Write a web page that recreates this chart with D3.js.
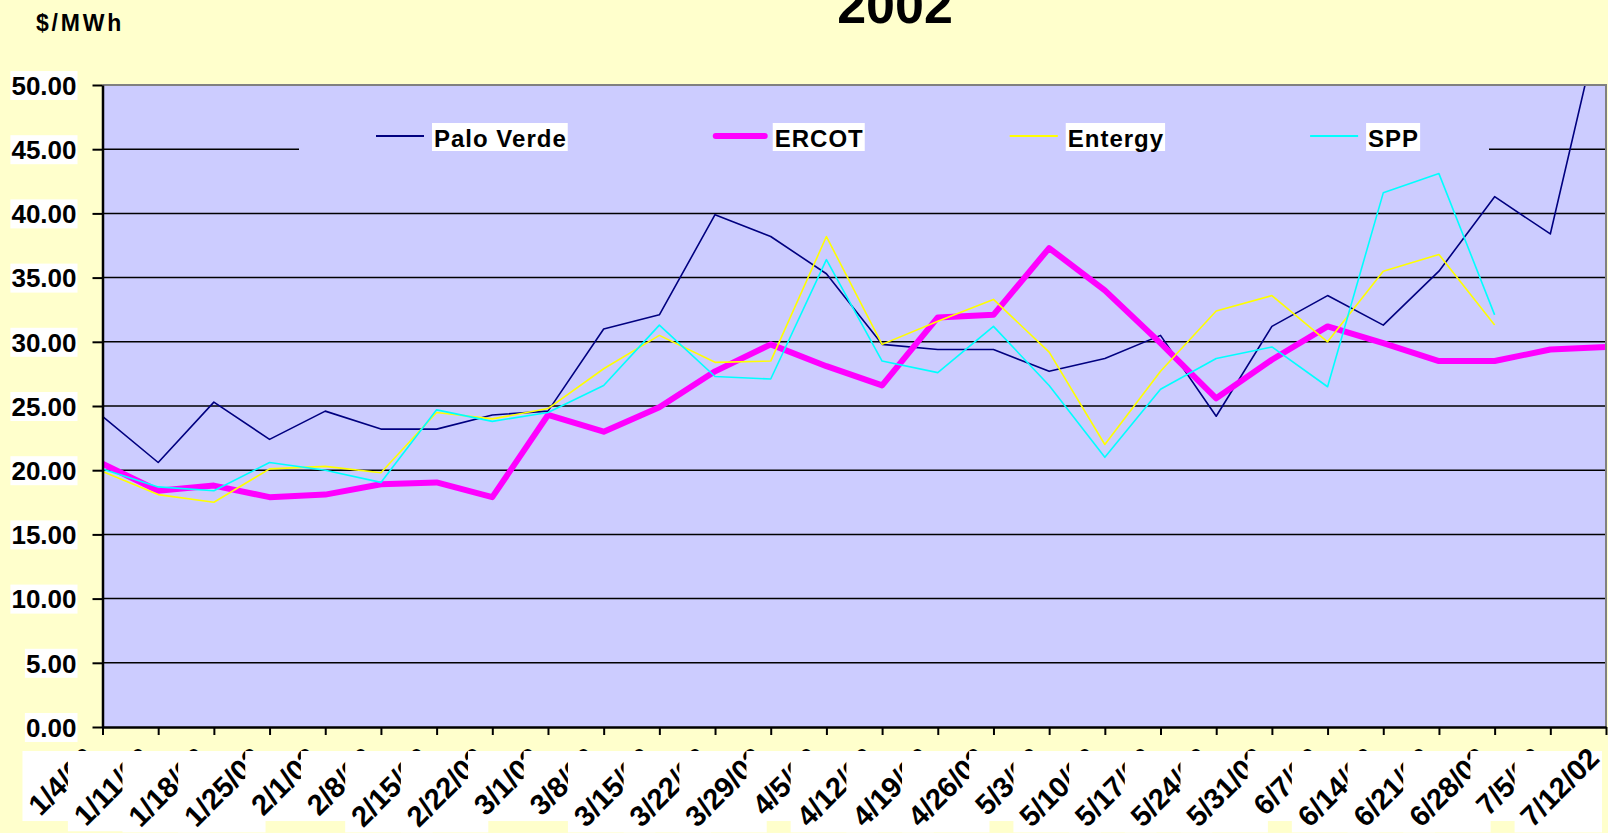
<!DOCTYPE html>
<html>
<head>
<meta charset="utf-8">
<script src="https://cdn.jsdelivr.net/npm/d3@7"></script>
<style>
  body { margin: 0; background: #FFFFCC; }
  svg { display: block; font-family: "Liberation Sans", Arial, sans-serif; font-weight: bold; }
</style>
</head>
<body>
<script>
var width = 1608,
    height = 833,
    plotLeft = 102.5,
    plotRight = 1606,
    plotTop = 85,
    plotBottom = 727;

// weekly prices, $/MWh
var weeks = ["1/4/02", "1/11/02", "1/18/02", "1/25/02", "2/1/02", "2/8/02", "2/15/02", "2/22/02",
             "3/1/02", "3/8/02", "3/15/02", "3/22/02", "3/29/02", "4/5/02", "4/12/02", "4/19/02",
             "4/26/02", "5/3/02", "5/10/02", "5/17/02", "5/24/02", "5/31/02", "6/7/02", "6/14/02",
             "6/21/02", "6/28/02", "7/5/02", "7/12/02"];

var paloVerde = [24.2, 20.6, 25.3, 22.4, 24.6, 23.2, 23.2, 24.3, 24.6, 31.0, 32.1, 39.9, 38.2, 35.3,
                 29.8, 29.4, 29.4, 27.7, 28.7, 30.5, 24.2, 31.2, 33.6, 31.3, 35.5, 41.3, 38.4, 57.0];
var ercot     = [20.5, 18.4, 18.8, 17.9, 18.1, 18.9, 19.05, 17.9, 24.3, 23.0, 24.9, 27.7, 29.8, 28.1,
                 26.6, 31.9, 32.1, 37.3, 34.0, 29.9, 25.6, 28.6, 31.2, 29.9, 28.5, 28.5, 29.4, 29.6];
var entergy   = [19.9, 18.1, 17.5, 20.1, 20.3, 19.8, 24.5, 24.0, 24.8, 27.9, 30.5, 28.4, 28.5, 38.2,
                 29.8, 31.6, 33.3, 29.2, 22.0, 27.7, 32.4, 33.6, 30.0, 35.5, 36.8, 31.3, null, null];
var spp       = [20.1, 18.7, 18.4, 20.6, 20.0, 19.05, 24.7, 23.8, 24.5, 26.6, 31.3, 27.3, 27.1, 36.4,
                 28.5, 27.6, 31.2, 26.6, 21.0, 26.3, 28.7, 29.6, 26.5, 41.6, 43.1, 32.1, null, null];

var seriesNames = ["Palo Verde", "ERCOT", "Entergy", "SPP"];
var yTicks = [0, 5, 10, 15, 20, 25, 30, 35, 40, 45, 50];

// styling
var seriesColors = ["#000080", "#FF00FF", "#FFFF00", "#00FFFF"],
    seriesWidths = [1.6, 6, 1.6, 1.6];

var series = [paloVerde, ercot, entergy, spp].map(function(v, i) {
    return {name: seriesNames[i], values: v, color: seriesColors[i], width: seriesWidths[i]};
});

var x = d3.scalePoint()
    .domain(weeks)
    .range([plotLeft, plotRight]);

var y = d3.scaleLinear()
    .domain([0, 50])
    .range([plotBottom, plotTop]);

var svg = d3.select("body").append("svg")
    .attr("width", width)
    .attr("height", height);

svg.append("rect")
    .attr("width", width).attr("height", height)
    .attr("fill", "#FFFFCC");

// titles
svg.append("text")
    .attr("x", 895).attr("y", 23)
    .attr("text-anchor", "middle")
    .style("font-size", "52px")
    .text("2002");

svg.append("text")
    .attr("x", 36).attr("y", 31)
    .style("font-size", "23px")
    .style("letter-spacing", "2.8px")
    .text("$/MWh");

// plot area
svg.append("rect")
    .attr("x", plotLeft).attr("y", plotTop)
    .attr("width", plotRight - plotLeft).attr("height", plotBottom - plotTop)
    .attr("fill", "#CCCCFF");

svg.append("clipPath").attr("id", "plotClip")
  .append("rect")
    .attr("x", plotLeft).attr("y", plotTop)
    .attr("width", plotRight - plotLeft).attr("height", plotBottom - plotTop);

svg.append("g").selectAll("line")
    .data(yTicks.filter(function(d) { return d > 0 && d < 50; }))
    .enter().append("line")
    .attr("x1", plotLeft).attr("x2", plotRight)
    .attr("y1", function(d) { return y(d); })
    .attr("y2", function(d) { return y(d); })
    .attr("stroke", "#000")
    .attr("stroke-width", 1.5);

// legend (background hides the gridline behind it)
var legend = svg.append("g");
legend.append("rect")
    .attr("x", 299).attr("y", 118)
    .attr("width", 1489 - 299).attr("height", 40)
    .attr("fill", "#CCCCFF");

var lx = 376, ly = 136;
series.forEach(function(s) {
    var thick = s.width > 3,
        lw = thick ? 52 : 48;
    legend.append("line")
        .attr("x1", lx + (thick ? 3 : 0)).attr("x2", lx + lw)
        .attr("y1", ly).attr("y2", ly)
        .attr("stroke", s.color)
        .attr("stroke-width", thick ? 6 : 2)
        .attr("stroke-linecap", thick ? "round" : "butt");
    var tx = lx + lw + 8;
    var bg = legend.append("rect").attr("fill", "#fff");
    var t = legend.append("text")
        .attr("x", tx + 2).attr("y", ly + 11)
        .style("font-size", "24px")
        .style("letter-spacing", "1px")
        .text(s.name);
    var w = t.node().getComputedTextLength();
    bg.attr("x", tx).attr("y", 123).attr("width", w + 3).attr("height", 28);
    lx = tx + w + 3 + 145;
});

// series
var line = d3.line()
    .defined(function(d) { return d != null; })
    .x(function(d, i) { return x(weeks[i]); })
    .y(function(d) { return y(d); });

svg.append("g")
    .attr("clip-path", "url(#plotClip)")
    .selectAll("path")
    .data(series)
    .enter().append("path")
    .attr("d", function(s) { return line(s.values); })
    .attr("fill", "none")
    .attr("stroke", function(s) { return s.color; })
    .attr("stroke-width", function(s) { return s.width; })
    .attr("stroke-linejoin", "round");

// plot border (top / right)
svg.append("path")
    .attr("d", "M" + plotLeft + "," + plotTop + "H" + plotRight + "V" + plotBottom)
    .attr("fill", "none")
    .attr("stroke", "#808080")
    .attr("stroke-width", 2);

// axes
var yAxis = svg.append("g")
    .attr("transform", "translate(" + plotLeft + ",0)")
    .call(d3.axisLeft(y).tickValues(yTicks).tickFormat(d3.format(".2f")).tickSize(10).tickSizeOuter(0));

var xAxis = svg.append("g")
    .attr("transform", "translate(0," + plotBottom + ")")
    .call(d3.axisBottom(x).tickFormat("").tickSize(8).tickSizeOuter(0));

[yAxis, xAxis].forEach(function(a) {
    a.select(".domain").attr("stroke", "#000").attr("stroke-width", 2.5);
    a.selectAll(".tick line").attr("stroke", "#000").attr("stroke-width", 2);
});

yAxis.attr("font-family", null).attr("font-size", null);
yAxis.selectAll(".tick text")
    .attr("x", -26)
    .attr("dy", "0.36em")
    .attr("fill", "#000")
    .style("font-size", "26px")
    .each(function() {
        var b = this.getBBox();
        d3.select(this.parentNode).insert("rect", "text")
            .attr("x", b.x - 1).attr("y", -14.5)
            .attr("width", b.width + 2).attr("height", 29)
            .attr("fill", "#fff");
    });

// rotated week labels; each label's white box hides the tail of the previous one
var labels = svg.append("g");
weeks.forEach(function(w) {
    var ax = x(w) - 5, ay = 760;
    var g = labels.append("g").attr("transform", "translate(" + ax + "," + ay + ")");
    var bg = g.append("rect").attr("fill", "#fff");
    var t = g.append("text")
        .attr("transform", "rotate(-45)")
        .attr("text-anchor", "end")
        .style("font-size", "29px")
        .text(w);
    var dx = t.node().getComputedTextLength() * Math.SQRT1_2;
    bg.attr("x", -dx - 18).attr("y", 751 - ay)
      .attr("width", dx + 19)
      .attr("height", dx + 4 + ay - 751);
});
</script>
</body>
</html>
